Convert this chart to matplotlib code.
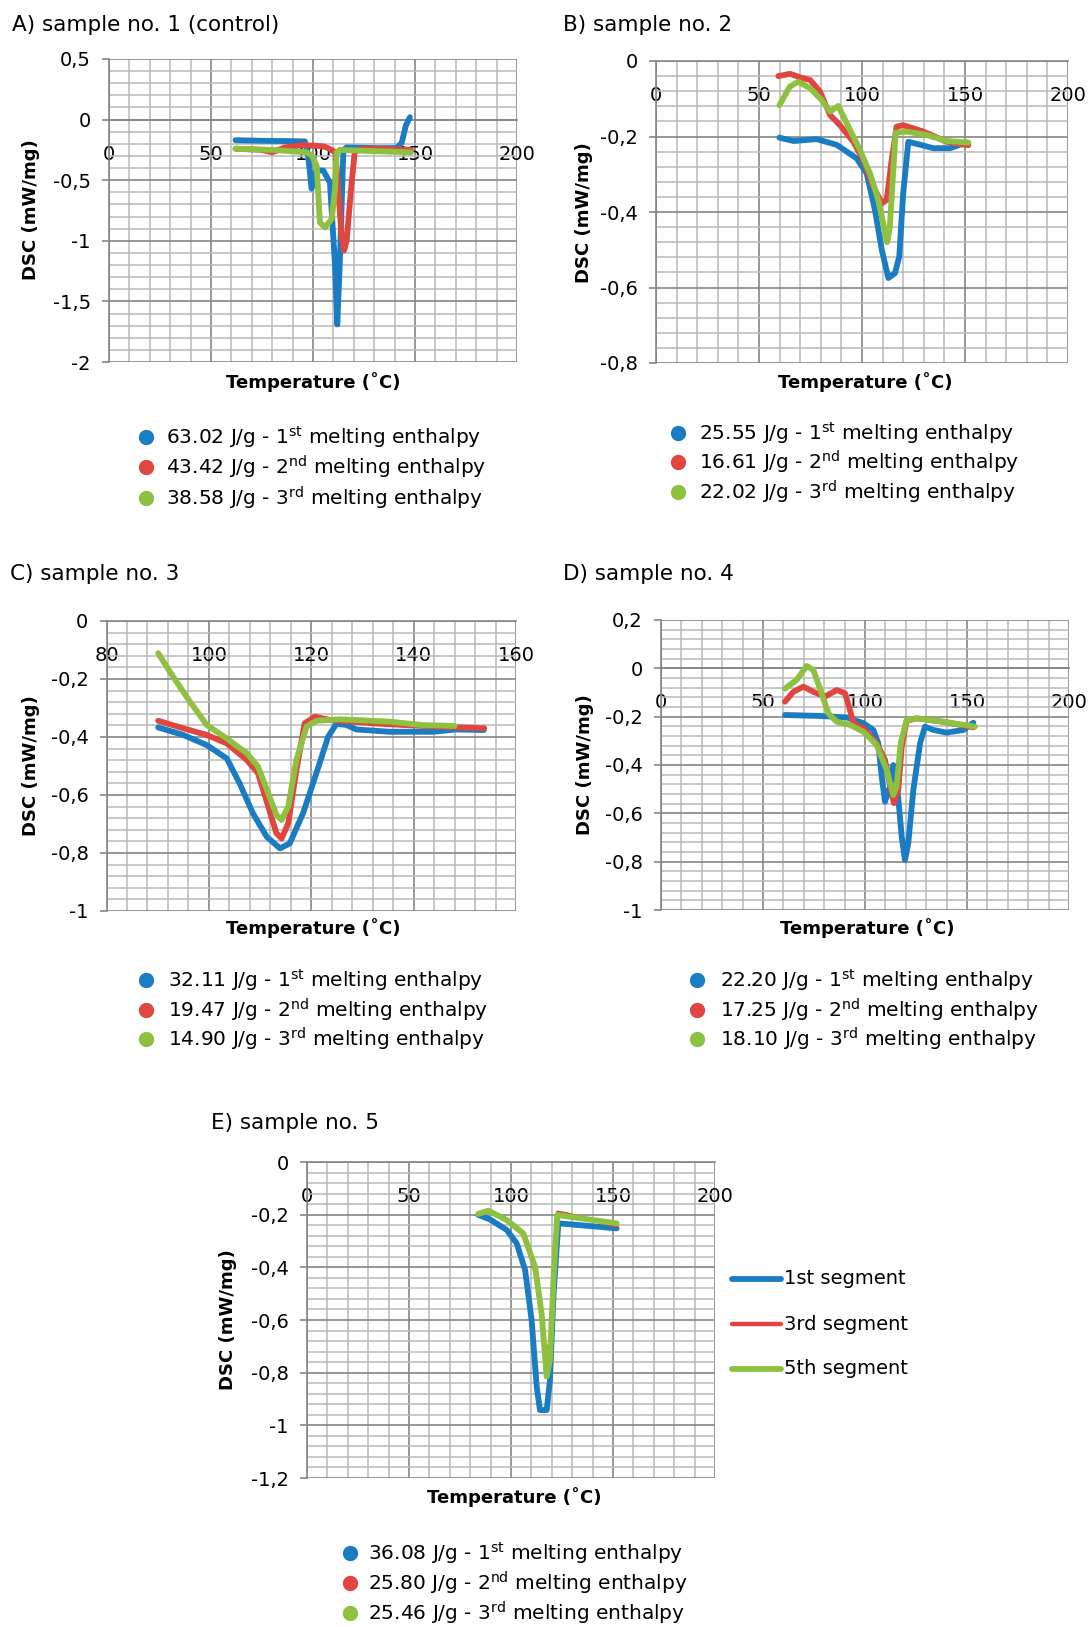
import matplotlib
matplotlib.use("Agg")
import matplotlib.pyplot as plt
from matplotlib.ticker import MultipleLocator, FuncFormatter
from matplotlib.lines import Line2D

# ---------------- data ----------------
# Panel A - sample no. 1 (control)
A_blue_T = [62, 75, 90, 96, 97.7, 99.3, 101.8, 105, 108.3, 110.8, 111.9, 113.1, 114.9, 116.5, 130, 141, 143.5, 145.5, 147.5]
A_blue_Y = [-0.17, -0.175, -0.178, -0.18, -0.31, -0.57, -0.42, -0.42, -0.52, -1.2, -1.69, -1.2, -0.25, -0.23, -0.235, -0.235, -0.19, -0.05, 0.02]
A_red_T = [62, 75, 80, 86, 95, 105, 108, 111, 112.5, 114, 115.2, 116.5, 118.5, 120.5, 125, 140, 148]
A_red_Y = [-0.24, -0.25, -0.27, -0.23, -0.21, -0.22, -0.24, -0.27, -0.6, -0.95, -1.08, -1.0, -0.6, -0.26, -0.24, -0.245, -0.25]
A_green_T = [62, 80, 97, 99.5, 101.8, 103.4, 105.9, 109.2, 110.8, 111.6, 113, 130, 148]
A_green_Y = [-0.24, -0.25, -0.27, -0.3, -0.38, -0.85, -0.89, -0.82, -0.57, -0.27, -0.25, -0.26, -0.27]

# Panel B - sample no. 2
B_blue_T = [59.9, 66.7, 78, 87.7, 97.4, 102.3, 106.3, 109.6, 112.8, 116, 118.1, 120, 122.5, 126.9, 134.6, 142.7, 150.8]
B_blue_Y = [-0.203, -0.212, -0.207, -0.222, -0.258, -0.298, -0.395, -0.5, -0.575, -0.562, -0.518, -0.35, -0.214, -0.22, -0.231, -0.231, -0.216]
B_red_T = [59.4, 65, 71.5, 74.8, 79.6, 84.5, 89.3, 95.8, 100.6, 105.5, 109.6, 112, 114.4, 116.8, 120, 129.8, 141.1, 151.6]
B_red_Y = [-0.04, -0.034, -0.046, -0.05, -0.081, -0.143, -0.17, -0.214, -0.262, -0.333, -0.377, -0.368, -0.262, -0.174, -0.17, -0.187, -0.214, -0.223]
B_green_T = [59.9, 65, 69, 74.8, 80.4, 84.5, 88.5, 92.6, 99, 103.9, 107.9, 112.2, 113.5, 116.3, 121.7, 131.4, 141.1, 151.6]
B_green_Y = [-0.117, -0.068, -0.055, -0.072, -0.103, -0.134, -0.119, -0.165, -0.236, -0.298, -0.368, -0.48, -0.44, -0.19, -0.187, -0.196, -0.212, -0.216]

# Panel C - sample no. 3
C_blue_T = [90.1, 95, 99.6, 103.5, 106, 108.6, 111.3, 113.9, 115.8, 118.4, 121, 123.3, 124.9, 126.8, 128.8, 135.3, 143.8, 148.3, 153.7]
C_blue_Y = [-0.367, -0.393, -0.428, -0.474, -0.56, -0.663, -0.744, -0.784, -0.767, -0.663, -0.525, -0.399, -0.355, -0.358, -0.374, -0.382, -0.382, -0.374, -0.376]
C_red_T = [90.1, 95, 99.6, 103.5, 107.4, 109.6, 111.6, 113.2, 114.2, 115.5, 117.1, 118.7, 120.7, 123.6, 132.1, 141.8, 153.8]
C_red_Y = [-0.344, -0.37, -0.393, -0.422, -0.479, -0.525, -0.64, -0.732, -0.75, -0.698, -0.514, -0.353, -0.33, -0.341, -0.353, -0.362, -0.37]
C_green_T = [90.1, 93, 96.3, 99.6, 103.5, 107.4, 109.6, 111.6, 113.2, 114.2, 115.5, 117.1, 119.1, 121, 125.6, 135.3, 141.8, 148]
C_green_Y = [-0.111, -0.192, -0.278, -0.359, -0.405, -0.456, -0.502, -0.594, -0.669, -0.686, -0.64, -0.479, -0.364, -0.344, -0.339, -0.347, -0.359, -0.362]

# Panel D - sample no. 4
D_blue_T = [60.8, 77.9, 91, 99.2, 104.1, 106.5, 108.2, 109.8, 112.3, 113.9, 115.5, 118, 119.6, 121.2, 123.7, 127, 129.4, 133.5, 140, 148.2, 153.1]
D_blue_Y = [-0.193, -0.197, -0.203, -0.227, -0.255, -0.31, -0.448, -0.552, -0.49, -0.4, -0.462, -0.697, -0.793, -0.724, -0.503, -0.31, -0.241, -0.255, -0.266, -0.255, -0.225]
D_red_T = [60.8, 64.9, 69.8, 74.7, 80.4, 86.1, 90.2, 92.6, 94.3, 99.2, 105.7, 109.8, 113.1, 114.2, 116.3, 118, 120.4, 125.3, 138.4, 153.1]
D_red_Y = [-0.138, -0.097, -0.076, -0.097, -0.117, -0.09, -0.103, -0.172, -0.227, -0.248, -0.31, -0.379, -0.517, -0.558, -0.503, -0.324, -0.217, -0.207, -0.221, -0.244]
D_green_T = [60.8, 66.5, 71.4, 74.7, 77.9, 82, 86.1, 92.6, 99.2, 105.7, 110.6, 113.9, 115.5, 117.5, 120.4, 125.3, 138.4, 153.9]
D_green_Y = [-0.084, -0.048, 0.01, -0.007, -0.083, -0.186, -0.221, -0.234, -0.262, -0.317, -0.42, -0.524, -0.49, -0.31, -0.214, -0.207, -0.221, -0.241]

# Panel E - sample no. 5
E_blue_T = [84, 89.7, 97.9, 102.8, 106.9, 110.1, 112.6, 114.2, 117.5, 119.1, 120.8, 123.2, 128, 151.8]
E_blue_Y = [-0.201, -0.218, -0.258, -0.309, -0.41, -0.6, -0.853, -0.942, -0.942, -0.828, -0.511, -0.233, -0.236, -0.252]
E_red_T = [84, 88.9, 97.9, 106, 111.8, 115, 117.5, 119.1, 121.1, 122.7, 127.3, 151.8]
E_red_Y = [-0.195, -0.185, -0.227, -0.277, -0.423, -0.6, -0.727, -0.676, -0.322, -0.189, -0.195, -0.246]
E_green_T = [84, 88.9, 97.9, 106, 111.8, 115, 117.5, 119.1, 120.8, 122.7, 128.9, 151.8]
E_green_Y = [-0.197, -0.185, -0.22, -0.271, -0.398, -0.575, -0.815, -0.752, -0.448, -0.201, -0.208, -0.233]

titles = ["A) sample no. 1 (control)", "B) sample no. 2", "C) sample no. 3",
          "D) sample no. 4", "E) sample no. 5"]
enthalpy_A = ["63.02", "43.42", "38.58"]
enthalpy_B = ["25.55", "16.61", "22.02"]
enthalpy_C = ["32.11", "19.47", "14.90"]
enthalpy_D = ["22.20", "17.25", "18.10"]
enthalpy_E = ["36.08", "25.80", "25.46"]
ordinals = ["st", "nd", "rd"]
segment_labels = ["1st segment", "3rd segment", "5th segment"]
x_label = "Temperature (˚C)"
y_label = "DSC (mW/mg)"

# ---------------- style ----------------
W, H = 1091, 1627
BLUE, RED, GREEN = "#1a7cc3", "#e0453f", "#8dc13f"
MAJ, MIN = "#858585", "#b8b8b8"
plt.rcParams["font.family"] = ["DejaVu Sans"]
plt.rcParams["mathtext.fontset"] = "dejavusans"

fig = plt.figure(figsize=(W / 100, H / 100), dpi=100)


def fx(x):
    return x / W


def fy(y):
    return 1 - y / H


def make_axes(l, r, t, b):
    return fig.add_axes([fx(l), fy(b), fx(r) - fx(l), (b - t) / H])


def fmt(v, pos):
    v = round(v, 6)
    s = f"{v:g}"
    if s == "-0":
        s = "0"
    return s.replace(".", ",")


def style(ax, xlim, ylim, xmaj, xmin_, ymaj, ymin_, xlab_pos, ylab_pos):
    ax.set_xlim(*xlim)
    ax.set_ylim(*ylim)
    ax.xaxis.set_major_locator(MultipleLocator(xmaj))
    ax.xaxis.set_minor_locator(MultipleLocator(xmin_))
    ax.yaxis.set_major_locator(MultipleLocator(ymaj))
    ax.yaxis.set_minor_locator(MultipleLocator(ymin_))
    ax.yaxis.set_major_formatter(FuncFormatter(fmt))
    ax.xaxis.set_major_formatter(FuncFormatter(lambda v, p: f"{round(v, 6):g}"))
    ax.grid(which="minor", color=MIN, lw=1.1, zorder=0)
    ax.grid(which="major", color=MAJ, lw=1.2, zorder=0)
    ax.set_axisbelow(True)
    for s in ("top", "right"):
        ax.spines[s].set_visible(False)
    ax.spines["bottom"].set_position(("data", 0))
    ax.spines["bottom"].set_color(MAJ)
    ax.spines["bottom"].set_linewidth(1.2)
    ax.spines["left"].set_color(MAJ)
    ax.spines["left"].set_linewidth(1.2)
    ax.tick_params(axis="x", which="both", length=0, pad=18, labelsize=14)
    ax.tick_params(axis="y", which="major", length=5, width=1.2, color=MAJ,
                   direction="out", pad=8, labelsize=14)
    ax.tick_params(axis="y", which="minor", length=0)
    ax.set_facecolor("white")
    ax.set_xlabel(x_label, fontsize=13, fontweight="bold")
    ax.set_ylabel(y_label, fontsize=13, fontweight="bold")
    ax.xaxis.set_label_coords(fx(xlab_pos[0]), fy(xlab_pos[1]), transform=fig.transFigure)
    ax.xaxis.label.set_va("center")
    ax.yaxis.set_label_coords(fx(ylab_pos[0]), fy(ylab_pos[1]), transform=fig.transFigure)
    ax.yaxis.label.set_va("center")


def curves(ax, series, lws):
    for (T, Y, c), lw in zip(series, lws):
        ax.plot(T, Y, color=c, lw=lw, solid_joinstyle="round",
                solid_capstyle="round", zorder=3, clip_on=False)


def enthalpy_legend(x_marker, x_text, ys, values):
    for n, (y, v, o, c) in enumerate(zip(ys, values, ordinals, (BLUE, RED, GREEN)), start=1):
        fig.add_artist(Line2D([fx(x_marker)], [fy(y)], marker="o", ms=10,
                              color=c, transform=fig.transFigure, ls="none"))
        fig.text(fx(x_text), fy(y),
                 f"{v} J/g - {n}$^{{\\mathrm{{{o}}}}}$ melting enthalpy",
                 fontsize=14.5, va="center", ha="left")


lw_thick = 4.2

# ---- Panel A ----
axA = make_axes(109, 517, 59, 362)
style(axA, (0, 200), (-2, 0.5), 50, 10, 0.5, 0.1, (313, 382), (31, 210))
curves(axA, [(A_blue_T, A_blue_Y, BLUE), (A_red_T, A_red_Y, RED),
             (A_green_T, A_green_Y, GREEN)], [lw_thick] * 3)
fig.text(fx(12), fy(25), titles[0], fontsize=15.5, va="center")
enthalpy_legend(146, 166, [437, 467, 498], enthalpy_A)

# ---- Panel B ----
axB = make_axes(656, 1068, 61, 363)
style(axB, (0, 200), (-0.8, 0), 50, 10, 0.2, 0.04, (865, 382), (584, 213))
curves(axB, [(B_blue_T, B_blue_Y, BLUE), (B_red_T, B_red_Y, RED),
             (B_green_T, B_green_Y, GREEN)], [lw_thick] * 3)
fig.text(fx(563), fy(25), titles[1], fontsize=15.5, va="center")
enthalpy_legend(678, 699, [433, 462, 492], enthalpy_B)

# ---- Panel C ----
axC = make_axes(106.5, 516, 621, 911)
style(axC, (80, 160), (-1, 0), 20, 4, 0.2, 0.04, (313, 928), (31, 766))
curves(axC, [(C_blue_T, C_blue_Y, BLUE), (C_red_T, C_red_Y, RED),
             (C_green_T, C_green_Y, GREEN)], [lw_thick] * 3)
fig.text(fx(10), fy(574), titles[2], fontsize=15.5, va="center")
enthalpy_legend(146, 168, [980, 1010, 1039], enthalpy_C)

# ---- Panel D ----
axD = make_axes(661, 1069, 620, 910)
style(axD, (0, 200), (-1, 0.2), 50, 10, 0.2, 0.04, (867, 928), (585, 765))
curves(axD, [(D_blue_T, D_blue_Y, BLUE), (D_red_T, D_red_Y, RED),
             (D_green_T, D_green_Y, GREEN)], [lw_thick] * 3)
fig.text(fx(563), fy(574), titles[3], fontsize=15.5, va="center")
enthalpy_legend(697, 720, [980, 1010, 1039], enthalpy_D)

# ---- Panel E ----
axE = make_axes(307, 715, 1162, 1478)
style(axE, (0, 200), (-1.2, 0), 50, 10, 0.2, 0.04, (514, 1497), (228, 1320))
curves(axE, [(E_blue_T, E_blue_Y, BLUE), (E_red_T, E_red_Y, RED),
             (E_green_T, E_green_Y, GREEN)], [lw_thick, 1.8, lw_thick])
fig.text(fx(211), fy(1123), titles[4], fontsize=15.5, va="center")
enthalpy_legend(350, 368, [1553, 1583, 1613], enthalpy_E)

for y, lab, c, lw in zip([1279, 1324, 1369], segment_labels,
                         (BLUE, RED, GREEN), (lw_thick, 3.2, lw_thick)):
    fig.add_artist(Line2D([fx(732), fx(781)], [fy(y), fy(y)], color=c, lw=lw,
                          solid_capstyle="round", transform=fig.transFigure))
    fig.text(fx(784), fy(y), lab, fontsize=14, va="center", ha="left")

fig.savefig("out.png", dpi=100, facecolor="white")
